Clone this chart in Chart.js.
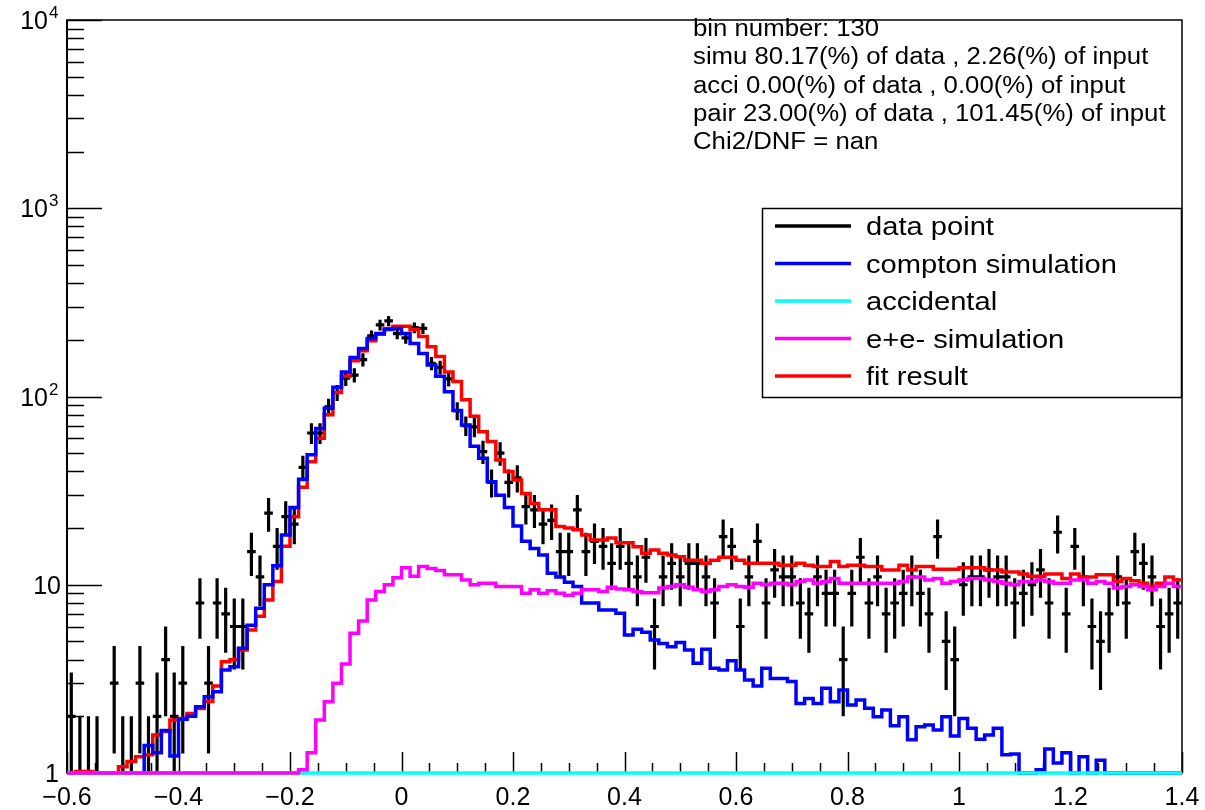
<!DOCTYPE html>
<html>
<head>
<meta charset="utf-8">
<title>bin number 130</title>
<script src="https://cdn.jsdelivr.net/npm/chart.js@4.4.0/dist/chart.umd.min.js"></script>
<style>
  html, body { margin: 0; padding: 0; background: #fff; }
  #wrap { width: 1205px; height: 810px; }
</style>
</head>
<body>
<div id="wrap"><canvas id="fitChart" width="1205" height="810"></canvas></div>
<script>
// histogram range: 130 bins from -0.6 to 1.4, log y from 1 to 1e4
const X_MIN = -0.6;
const X_MAX = 1.4;
const N_BINS = 130;
const Y_MIN = 1;
const Y_MAX = 10000;

// data counts per bin (error = sqrt(N))
const dataCounts = [
  2, 1, 1, 1, 0, 3, 1, 1, 3, 1, 2, 4, 2, 3, 0, 8, 3, 8, 7, 6,
  6, 15, 11, 24, 16, 23, 21, 42, 64, 64, 88, 105, 125, 130, 157, 210, 240, 252, 216, 205,
  232, 230, 150, 143, 124, 84, 70, 69, 51, 35, 50, 35, 37, 26, 25, 21, 22, 15, 15, 25,
  15, 17, 16, 13, 16, 13, 11, 14, 6, 11, 13, 11, 13, 13, 11, 8, 18, 16, 6, 11,
  17, 8, 12, 11, 11, 8, 7, 11, 9, 9, 4, 9, 14, 8, 11, 7, 8, 9, 11, 9,
  7, 18, 5, 4, 10, 11, 11, 12, 11, 11, 8, 9, 10, 12, 8, 19, 7, 16, 11, 6,
  5, 7, 11, 8, 15, 13, 11, 6, 7, 8
];

// compton simulation (blue)
const comptonSim = [
  0, 0, 0, 0, 0, 0, 0, 0, 0, 1.40, 1.28, 1.68, 1.23, 1.93, 2.0, 2.25, 2.54, 2.70, 3.52, 3.67,
  4.6, 6.1, 7.5, 10.0, 12.6, 18.4, 25.7, 36.3, 49, 67.6, 86.5, 112, 135, 161, 180, 203, 216, 227, 230, 216,
  191, 169, 147, 128, 106, 84.3, 70.5, 54.4, 47, 35.2, 29.9, 25.7, 20.5, 17, 15.6, 14.4, 11.5, 11.0, 10.3, 9.8,
  8.0, 8.0, 7.35, 7.35, 7.06, 5.41, 5.8, 5.6, 5.09, 4.88, 4.69, 4.93, 4.5, 3.83, 4.54, 3.6, 3.52, 3.95, 3.52, 3.12,
  2.9, 3.6, 3.18, 3.18, 3.06, 2.34, 2.49, 2.34, 2.82, 2.39, 2.76, 2.3, 2.44, 2.21, 1.99, 2.16, 1.78, 1.99, 1.5, 1.76,
  1.8, 1.69, 1.99, 1.57, 1.95, 1.73, 1.51, 1.59, 1.73, 1.25, 1.26, 0.8, 0.8, 1.04, 1.34, 1.13, 1.28, 0.9, 1.22, 0.9,
  1.17, 0, 0, 0, 0, 0, 0, 0, 0, 0
];

// accidental (cyan) - empty
const accidental = new Array(N_BINS).fill(0);

// e+e- simulation (magenta)
const pairSim = [
  0, 0, 0, 0, 0, 0, 0, 0, 0, 0, 0, 0, 0, 0, 0, 0, 0, 0, 0, 0,
  0, 0, 0, 0, 0, 0, 0, 1.04, 1.28, 1.91, 2.39, 3.0, 3.79, 5.53, 6.42, 8.3, 9.2, 10.0, 10.9, 12.3,
  11.1, 12.5, 12.2, 11.9, 11.3, 11.3, 10.6, 10.0, 10.2, 10.2, 9.8, 9.8, 9.8, 9.0, 9.4, 9.0, 9.3, 9.0, 8.8, 9.0,
  9.4, 9.4, 9.2, 9.7, 9.5, 9.4, 9.2, 9.06, 9.06, 9.6, 9.8, 10.0, 9.7, 9.4, 9.2, 9.4, 9.8, 10.0, 9.8, 9.7,
  10.2, 10.0, 10.2, 10.2, 10.0, 10.4, 10.6, 10.2, 10.4, 10.8, 10.2, 10.2, 10.2, 10.2, 10.2, 10.2, 10.2, 10.4, 11.0, 11.0,
  10.6, 10.8, 10.2, 10.4, 10.6, 10.8, 10.8, 10.6, 10.4, 10.2, 10.0, 10.4, 10.4, 10.6, 10.4, 10.2, 10.2, 10.6, 10.6, 10.2,
  10.4, 10.2, 9.6, 9.8, 10.0, 9.8, 9.4, 9.8, 10.2, 9.8
];

// fit result (red)
const fitResult = [
  0, 1.02, 1.02, 0, 0, 0, 1.08, 1.15, 1.22, 1.25, 1.59, 1.66, 1.91, 1.95, 2.07, 2.2, 2.4, 2.9, 3.9, 4.0,
  4.5, 5.75, 6.8, 8.3, 10.4, 16, 23, 33, 45, 60, 80, 105, 128, 155, 175, 198, 214, 230, 236, 236,
  226, 208, 184, 163, 135, 120, 96, 78.5, 65, 57.6, 46, 40, 36, 30.5, 27, 25, 25, 20.4, 20.0, 19.6,
  18.4, 17.3, 17.3, 17.7, 16.7, 16.7, 15.9, 14.7, 15.3, 14.7, 14.4, 14.1, 13.5, 13.5, 13.0, 13.5, 14.0, 14.0, 13.5, 13.0,
  13.0, 13.0, 13.0, 12.7, 12.7, 13.0, 12.7, 12.5, 12.5, 13.3, 12.5, 12.7, 12.7, 12.5, 12.5, 11.96, 11.96, 12.7, 11.96, 12.5,
  12.5, 12.1, 12.1, 12.1, 12.3, 12.3, 12.3, 11.96, 11.96, 11.7, 11.7, 11.4, 11.1, 11.1, 11.4, 11.4, 10.8, 11.4, 11.0, 11.0,
  11.3, 11.3, 10.4, 10.8, 10.5, 10.2, 9.8, 10.2, 11.0, 10.6
];

// axis tick labels
const xTickValues = [-0.6, -0.4, -0.2, 0, 0.2, 0.4, 0.6, 0.8, 1, 1.2, 1.4];
const xTickLabels = ["\u22120.6", "\u22120.4", "\u22120.2", "0", "0.2", "0.4", "0.6", "0.8", "1", "1.2", "1.4"];
const yDecades = [1, 10, 100, 1000, 10000];

const statLines = [
  "bin number: 130",
  "simu 80.17(%) of data , 2.26(%) of input",
  "acci 0.00(%) of data , 0.00(%) of input",
  "pair 23.00(%) of data , 101.45(%) of input",
  "Chi2/DNF = nan"
];

const legendItems = [
  { label: "data point", color: "#000000" },
  { label: "compton simulation", color: "#0000ff" },
  { label: "accidental", color: "#00ffff" },
  { label: "e+e- simulation", color: "#ff00ff" },
  { label: "fit result", color: "#ff0000" }
];

const BIN_W = (X_MAX - X_MIN) / N_BINS;
const FONT = '"Liberation Sans", Arial, sans-serif';

// histogram outline: one point per low edge, plus the closing edge
function histPoints(vals) {
  const pts = vals.map((v, i) => ({ x: X_MIN + i * BIN_W, y: Math.max(v, Y_MIN) }));
  pts.push({ x: X_MAX, y: Math.max(vals[vals.length - 1], Y_MIN) });
  return pts;
}

function histDataset(vals, color) {
  return {
    data: histPoints(vals),
    borderColor: color,
    borderWidth: 3.5,
    pointRadius: 0,
    stepped: "before",
    fill: false,
    borderJoinStyle: "miter",
    borderCapStyle: "butt",
    clip: 6
  };
}

function stretchText(ctx, txt, x, y, px, sx, align) {
  ctx.save();
  ctx.font = px + "px " + FONT;
  ctx.translate(x, y);
  ctx.scale(sx, 1);
  ctx.textAlign = align || "left";
  ctx.textBaseline = "alphabetic";
  ctx.fillStyle = "#000";
  ctx.fillText(txt, 0, 0);
  ctx.restore();
}

// frame, inward ticks and data points with error bars (under the histograms)
const rootFrame = {
  id: "rootFrame",
  beforeDraw(chart) {
    const ctx = chart.ctx;
    ctx.save();
    ctx.fillStyle = "#fff";
    ctx.fillRect(0, 0, chart.width, chart.height);
    ctx.restore();
  },
  beforeDatasetsDraw(chart) {
    const ctx = chart.ctx;
    const a = chart.chartArea;
    const xs = chart.scales.x;
    const ys = chart.scales.y;
    ctx.save();
    ctx.strokeStyle = "#000";
    ctx.lineWidth = 1.5;
    ctx.strokeRect(a.left, a.top, a.right - a.left, a.bottom - a.top);
    ctx.lineWidth = 2;
    ctx.beginPath();
    ctx.moveTo(a.left, a.top);
    ctx.lineTo(a.left, a.bottom);
    ctx.stroke();

    // x ticks
    ctx.lineWidth = 1.5;
    ctx.beginPath();
    for (let k = 0; k <= 40; k++) {
      const v = X_MIN + k * 0.05;
      const px = Math.round(xs.getPixelForValue(v)) + 0.5;
      const len = k % 4 === 0 ? 21 : 10;
      ctx.moveTo(px, a.bottom);
      ctx.lineTo(px, a.bottom - len);
    }
    // y ticks
    for (let d = 0; d < yDecades.length; d++) {
      const base = yDecades[d];
      const py = Math.round(ys.getPixelForValue(base)) + 0.5;
      ctx.moveTo(a.left, py);
      ctx.lineTo(a.left + 35, py);
      if (base >= Y_MAX) continue;
      for (let m = 2; m <= 9; m++) {
        const pm = Math.round(ys.getPixelForValue(base * m)) + 0.5;
        ctx.moveTo(a.left, pm);
        ctx.lineTo(a.left + 17, pm);
      }
    }
    ctx.stroke();

    // data points
    ctx.beginPath();
    ctx.rect(a.left, a.top, a.right - a.left, a.bottom - a.top + 2);
    ctx.clip();
    ctx.lineWidth = 3.2;
    ctx.lineCap = "butt";
    ctx.beginPath();
    dataCounts.forEach((n, i) => {
      if (n <= 0) return;
      const err = Math.sqrt(n);
      const lo = X_MIN + i * BIN_W;
      const xc = xs.getPixelForValue(lo + BIN_W / 2);
      const yc = ys.getPixelForValue(n);
      const yHi = ys.getPixelForValue(n + err);
      const yLo = ys.getPixelForValue(Math.max(n - err, Y_MIN));
      ctx.moveTo(xc, yHi);
      ctx.lineTo(xc, yLo);
      ctx.moveTo(xs.getPixelForValue(lo), yc);
      ctx.lineTo(xs.getPixelForValue(lo + BIN_W), yc);
    });
    ctx.stroke();
    ctx.restore();
  },
  afterDraw(chart) {
    const ctx = chart.ctx;
    const a = chart.chartArea;
    const xs = chart.scales.x;
    const ys = chart.scales.y;

    // x labels
    xTickValues.forEach((v, i) => {
      stretchText(ctx, xTickLabels[i], xs.getPixelForValue(v), 805, 25, 1, "center");
    });
    // y labels
    yDecades.forEach((v) => {
      const py = ys.getPixelForValue(v);
      const exp = Math.round(Math.log10(v));
      if (exp === 0) {
        stretchText(ctx, "1", a.left - 8, py + 9, 25, 1, "right");
      } else if (exp === 1) {
        stretchText(ctx, "10", a.left - 6, py + 9, 25, 1, "right");
      } else {
        stretchText(ctx, "10", a.left - 19, py + 9, 25, 1, "right");
        stretchText(ctx, String(exp), a.left - 18, py - 2, 17, 1, "left");
      }
    });

    // fit summary text
    statLines.forEach((t, i) => {
      stretchText(ctx, t, 693, 36 + i * 28.3, 23, 1.12, "left");
    });

    // legend
    ctx.save();
    ctx.fillStyle = "#fff";
    ctx.fillRect(762, 208, 420, 190);
    ctx.strokeStyle = "#000";
    ctx.lineWidth = 1.5;
    ctx.strokeRect(762.5, 208.5, 419, 189);
    legendItems.forEach((it, i) => {
      const ry = 226 + i * 37.5;
      ctx.strokeStyle = it.color;
      ctx.lineWidth = 3.5;
      ctx.beginPath();
      ctx.moveTo(775, ry);
      ctx.lineTo(851, ry);
      ctx.stroke();
      stretchText(ctx, it.label, 866, ry + 9, 26, 1.12, "left");
    });
    ctx.restore();
  }
};

const ctx = document.getElementById("fitChart").getContext("2d");
new Chart(ctx, {
  type: "line",
  data: {
    // first dataset is drawn on top
    datasets: [
      histDataset(pairSim, "#ff00ff"),
      histDataset(accidental, "#00ffff"),
      histDataset(comptonSim, "#0000ff"),
      histDataset(fitResult, "#ff0000")
    ]
  },
  options: {
    responsive: false,
    animation: false,
    events: [],
    layout: { padding: { left: 67, top: 20, right: 23, bottom: 37 } },
    scales: {
      x: { type: "linear", min: X_MIN, max: X_MAX, display: false },
      y: { type: "logarithmic", min: Y_MIN, max: Y_MAX, display: false }
    },
    plugins: {
      legend: { display: false },
      tooltip: { enabled: false }
    }
  },
  plugins: [rootFrame]
});
</script>
</body>
</html>
